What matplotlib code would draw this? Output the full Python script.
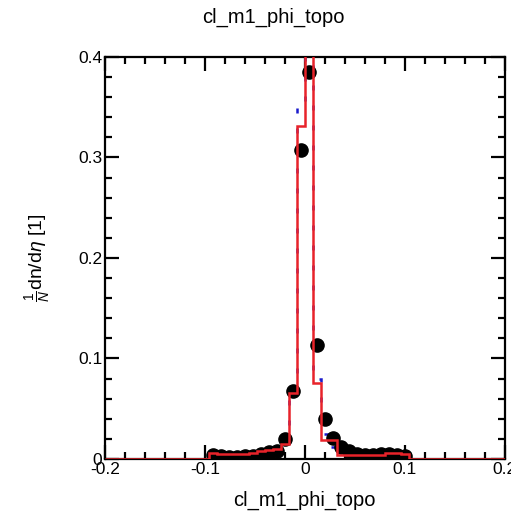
import matplotlib
matplotlib.use('Agg')
import matplotlib.pyplot as plt
import numpy as np
from matplotlib.ticker import MultipleLocator, FixedFormatter, FixedLocator

plt.rcParams['font.family'] = ['Liberation Sans', 'DejaVu Sans']
plt.rcParams['mathtext.fontset'] = 'custom'
plt.rcParams['mathtext.rm'] = 'Liberation Sans'
plt.rcParams['mathtext.it'] = 'Liberation Sans:italic'

# bin width 0.008, filled bins run from -0.096 to 0.104
bin_width = 0.008
first_edge = -0.096
data_vals = [0.004, 0.003, 0.002, 0.002, 0.003, 0.003, 0.005, 0.007, 0.008, 0.020,
             0.068, 0.307, 0.385, 0.113, 0.040, 0.021, 0.012, 0.008, 0.005, 0.004,
             0.004, 0.005, 0.005, 0.004, 0.003]
mc_red = [0.006, 0.005, 0.005, 0.005, 0.005, 0.006, 0.008, 0.009, 0.010, 0.015,
          0.066, 0.331, 0.450, 0.076, 0.019, 0.019, 0.004, 0.004, 0.004, 0.004,
          0.004, 0.004, 0.006, 0.006, 0.005]
mc_blue = [0.005, 0.004, 0.004, 0.004, 0.004, 0.005, 0.007, 0.009, 0.010, 0.016,
           0.065, 0.352, 0.440, 0.080, 0.025, 0.012, 0.005, 0.004, 0.004, 0.004,
           0.004, 0.004, 0.005, 0.005, 0.004]

x_range = (-0.2, 0.2)
title = 'cl_m1_phi_topo'

# full set of edges across the axis, zero outside the filled bins
edges = np.round(np.arange(x_range[0], x_range[1] + 1e-9, bin_width), 4)
n_left = int(round((first_edge - x_range[0]) / bin_width))
def pad(v):
    full = np.zeros(len(edges) - 1)
    full[n_left:n_left + len(v)] = v
    return full

centers = first_edge + bin_width * (np.arange(len(data_vals)) + 0.5)

fig = plt.figure(figsize=(5.11, 5.18), dpi=100)
ax = fig.add_axes([0.2055, 0.114, 0.782, 0.776])

ax.stairs(pad(mc_blue), edges, color='#1a1acc', lw=1.8, linestyle=(0, (2, 6)), zorder=2)
ax.plot(centers, data_vals, 'o', color='black', ms=9.5, zorder=3)
ax.stairs(pad(mc_red), edges, color='#e8232a', lw=1.8, zorder=4)

ax.set_xlim(*x_range)
ax.set_ylim(0, 0.4)
ax.xaxis.set_major_locator(FixedLocator([-0.2, -0.1, 0, 0.1, 0.2]))
ax.xaxis.set_major_formatter(FixedFormatter(['-0.2', '-0.1', '0', '0.1', '0.2']))
ax.xaxis.set_minor_locator(MultipleLocator(0.02))
ax.yaxis.set_major_locator(FixedLocator([0, 0.1, 0.2, 0.3, 0.4]))
ax.yaxis.set_major_formatter(FixedFormatter(['0', '0.1', '0.2', '0.3', '0.4']))
ax.yaxis.set_minor_locator(MultipleLocator(0.02))
ax.tick_params(which='both', direction='in', top=True, right=True, width=1.6)
ax.tick_params(which='major', length=10, labelsize=12.5, pad=2)
ax.tick_params(which='minor', length=5)
for s in ax.spines.values():
    s.set_linewidth(1.6)

ax.set_xlabel(title, fontsize=14.5, labelpad=10)
ax.set_ylabel(r'$\frac{1}{N}$dn/d$\eta$ [1]', fontsize=14, labelpad=18)
fig.text(0.535, 0.967, title, ha='center', va='center', fontsize=14.5)

plt.savefig('out.png', dpi=100)
